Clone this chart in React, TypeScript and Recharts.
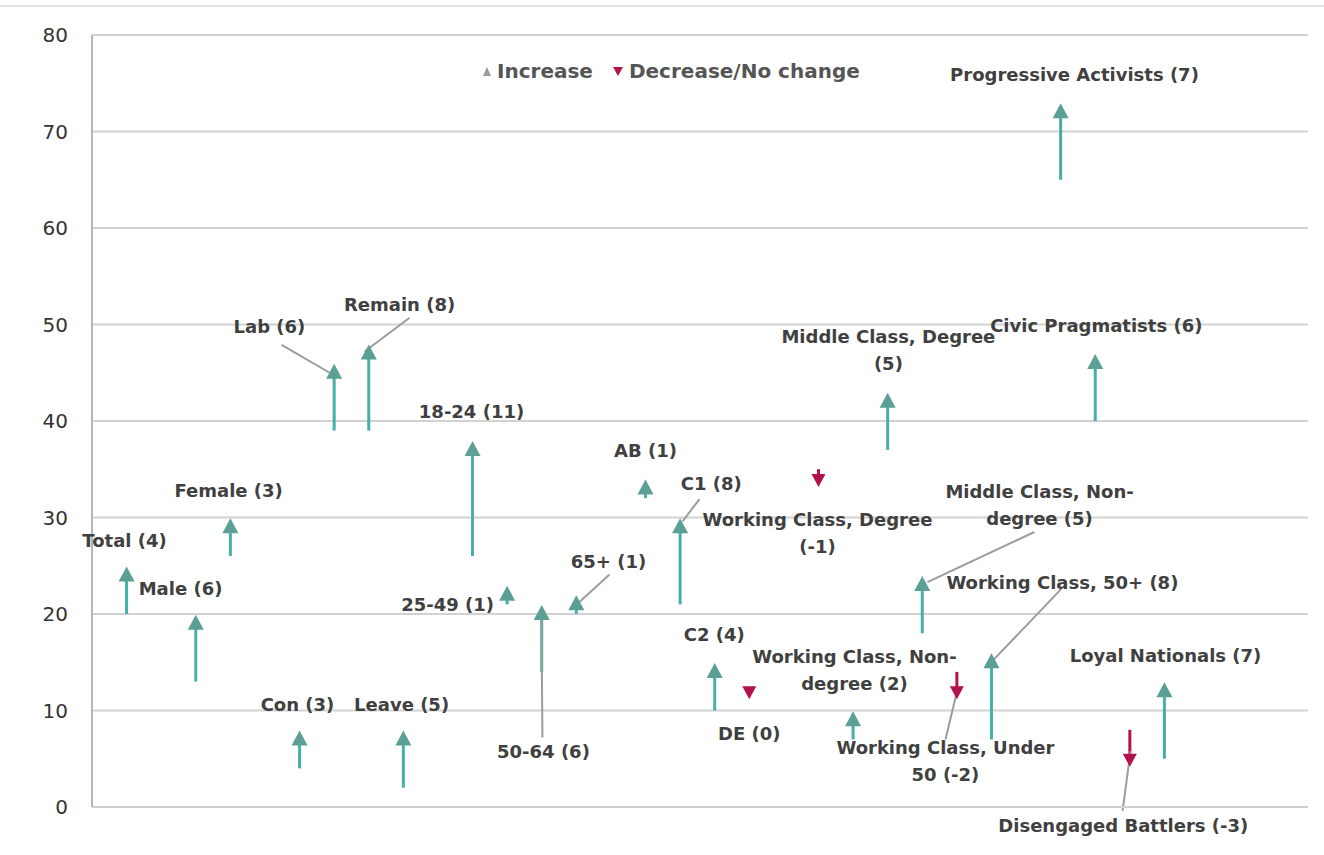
import React from 'react';
import {
  ComposedChart,
  XAxis,
  YAxis,
  CartesianGrid,
  Scatter,
  ReferenceLine,
  ReferenceDot,
} from 'recharts';

// Groups in drawing order, left to right
const groups = [
  'Total (4)', 'Male (6)', 'Female (3)', 'Con (3)', 'Lab (6)', 'Remain (8)', 'Leave (5)',
  '18-24 (11)', '25-49 (1)', '50-64 (6)', '65+ (1)', 'AB (1)', 'C1 (8)', 'C2 (4)', 'DE (0)',
  'Working Class, Degree\n(-1)', 'Working Class, Non-\ndegree (2)', 'Middle Class, Degree\n(5)',
  'Middle Class, Non-\ndegree (5)', 'Working Class, Under\n50 (-2)', 'Working Class, 50+ (8)',
  'Progressive Activists (7)', 'Civic Pragmatists (6)', 'Disengaged Battlers (-3)', 'Loyal Nationals (7)',
];
// category slot on the (hidden) x axis
const slots = [0, 2, 3, 5, 6, 7, 8, 10, 11, 12, 13, 15, 16, 17, 18, 20, 21, 22, 23, 24, 25, 27, 28, 29, 30];
const startValues = [20, 13, 26, 4, 39, 39, 2, 26, 21, 14, 20, 32, 21, 10, 12, 35, 7, 37, 18, 14, 7, 65, 40, 8, 5];
const endValues = [24, 19, 29, 7, 45, 47, 7, 37, 22, 20, 21, 33, 29, 14, 12, 34, 9, 42, 23, 12, 15, 72, 46, 5, 12];

const yTicks = [0, 10, 20, 30, 40, 50, 60, 70, 80];

// label anchor (data units) for each group
const labelX = [-0.06, 1.56, 2.95, 4.94, 4.13, 7.89, 7.95, 9.97, 9.28, 12.05, 13.93, 15.0, 16.9, 16.99, 18.0,
  19.97, 21.04, 22.02, 26.39, 23.67, 27.05, 27.4, 28.03, 28.81, 30.03];
const labelY = [27.7, 22.7, 32.8, 10.7, 49.8, 52.1, 10.7, 41.0, 21.0, 5.8, 25.5, 37.0, 33.6, 17.9, 7.7,
  28.4, 14.3, 47.4, 31.3, 4.8, 23.3, 76.0, 49.9, -1.9, 15.7];

// leader lines: [x1, y1, x2, y2] in data units
const leaders = [
  [4.48, 47.9, 5.87, 45.0],
  [8.18, 50.7, 6.88, 47.2],
  [16.56, 31.9, 16.07, 29.6],
  [13.96, 24.1, 12.86, 20.5],
  [12.02, 7.2, 11.99, 20.3],
  [26.24, 28.5, 23.15, 23.3],
  [27.02, 22.6, 24.94, 14.8],
  [23.67, 7.0, 24.02, 12.2],
  [28.79, -0.4, 29.02, 5.8],
];

const FONT = '"DejaVu Sans", Verdana, sans-serif';
const TEAL = '#45b0aa';
const HEAD_TEAL = '#5c9f97';
const RED = '#b3124a';
const TEXT = '#404040';

const heads = groups.map((g, i) => ({ x: slots[i], y: endValues[i], up: endValues[i] > startValues[i] }));

const ArrowHead = (props: any) => {
  const { cx, cy, payload } = props;
  if (cx == null || cy == null) return null;
  if (payload.up) {
    return <path d={`M${cx},${cy - 9} L${cx + 8},${cy + 6} L${cx - 8},${cy + 6} Z`} fill={HEAD_TEAL} />;
  }
  return <path d={`M${cx},${cy + 8} L${cx + 7},${cy - 5} L${cx - 7},${cy - 5} Z`} fill={RED} />;
};

const makeLabel = (text: string) => (props: any) => {
  const { cx, cy } = props;
  const lines = text.split('\n');
  const lh = 27;
  return (
    <text
      x={cx}
      y={cy - ((lines.length - 1) * lh) / 2}
      textAnchor="middle"
      dominantBaseline="central"
      fontFamily={FONT}
      fontSize={18}
      fontWeight="bold"
      fill={TEXT}
    >
      {lines.map((l, k) => (
        <tspan key={k} x={cx} dy={k === 0 ? 0 : lh}>
          {l}
        </tspan>
      ))}
    </text>
  );
};

export default function App() {
  return (
    <div style={{ position: 'absolute', left: 0, top: 0, width: 1324, height: 855, background: '#fff' }}>
      <div style={{ position: 'absolute', left: 0, top: 5, width: 1324, height: 2, background: '#e2e2e2' }} />
      <ComposedChart width={1324} height={855} margin={{ top: 35, right: 16, bottom: 47, left: 0 }}>
        <CartesianGrid vertical={false} stroke="#d2d2d2" strokeWidth={2} />
        <XAxis
          dataKey="x"
          type="number"
          domain={[-1, 34.15]}
          axisLine={{ stroke: '#cfcfcf', strokeWidth: 2 }}
          tick={false}
          tickLine={false}
          height={1}
        />
        <YAxis
          dataKey="y"
          type="number"
          domain={[0, 80]}
          ticks={yTicks}
          width={92}
          tickLine={false}
          tickMargin={18}
          axisLine={{ stroke: '#b5b5b5', strokeWidth: 2 }}
          tick={{ fontSize: 20, fill: '#333', fontFamily: FONT }}
        />

        {/* shafts */}
        {groups.map((g, i) => (
          <ReferenceLine
            key={`s-${g}`}
            segment={[
              { x: slots[i], y: startValues[i] },
              { x: slots[i], y: endValues[i] },
            ]}
            stroke={endValues[i] > startValues[i] ? TEAL : RED}
            strokeWidth={3}
            ifOverflow="visible"
          />
        ))}

        {/* leader lines */}
        {leaders.map((l, i) => (
          <ReferenceLine
            key={`l-${i}`}
            segment={[
              { x: l[0], y: l[1] },
              { x: l[2], y: l[3] },
            ]}
            stroke="#9c9c9c"
            strokeWidth={2}
            ifOverflow="visible"
          />
        ))}

        <Scatter data={heads} dataKey="y" shape={ArrowHead} isAnimationActive={false} />

        {groups.map((g, i) => (
          <ReferenceDot
            key={`t-${g}`}
            x={labelX[i]}
            y={labelY[i]}
            ifOverflow="visible"
            shape={makeLabel(g)}
          />
        ))}
      </ComposedChart>

      <div
        style={{
          position: 'absolute',
          left: 480,
          top: 59,
          display: 'flex',
          alignItems: 'center',
          fontFamily: FONT,
          fontWeight: 700,
          fontSize: 20,
          color: '#555',
        }}
      >
        <svg width={14} height={12}>
          <path d="M7,2 L11,11 L3,11 Z" fill="#9a9a9a" />
        </svg>
        <span style={{ marginLeft: 3 }}>Increase</span>
        <svg width={14} height={12} style={{ marginLeft: 18 }}>
          <path d="M2,2 L12,2 L7,11 Z" fill={RED} />
        </svg>
        <span style={{ marginLeft: 4 }}>Decrease/No change</span>
      </div>
    </div>
  );
}
